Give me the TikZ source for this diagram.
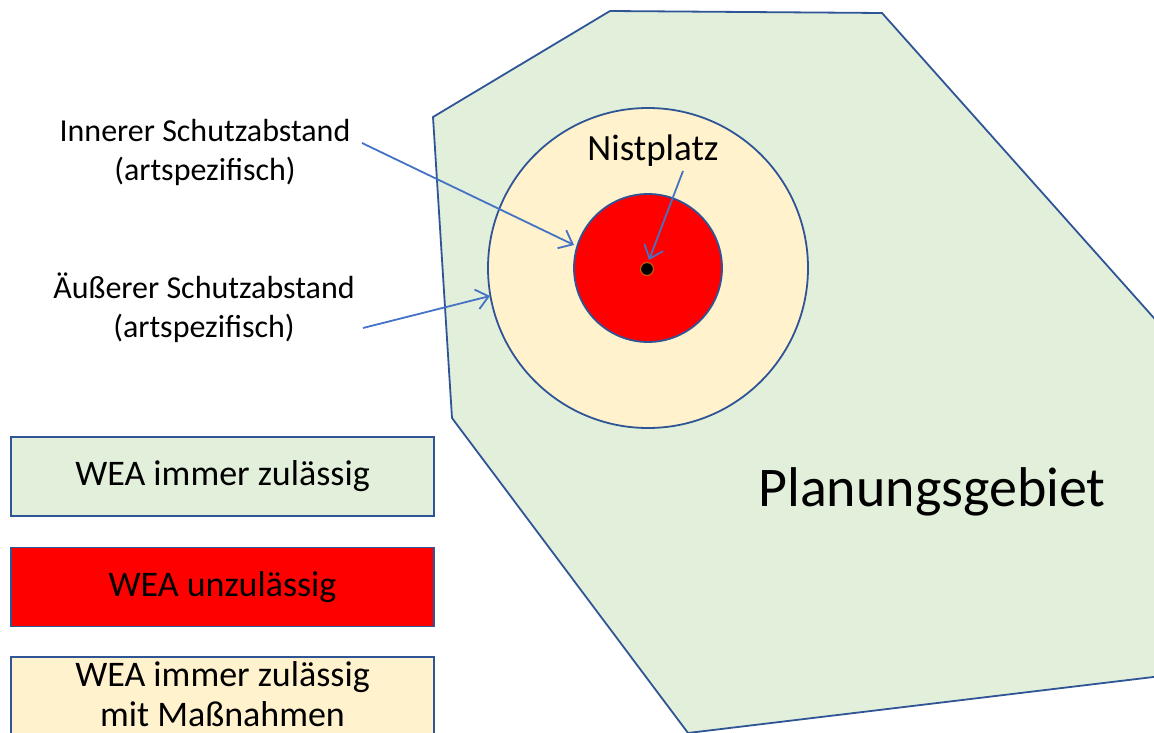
\documentclass[tikz,border=0pt]{standalone}
\usepackage{fontspec}
\setmainfont{Carlito}
\usetikzlibrary{arrows.meta}
\definecolor{areagreen}{HTML}{E2EFDA}
\definecolor{areacream}{HTML}{FFF2CC}
\definecolor{edgeblue}{HTML}{2F5597}
\definecolor{arrowblue}{HTML}{4472C4}
\definecolor{dotorange}{HTML}{C55A11}
\tikzset{
  outline/.style={draw=edgeblue, line width=1.8pt},
  legendfont/.style={font=\fontsize{36}{40}\selectfont, align=center, inner sep=0pt},
  legendbox/.style={outline, legendfont, minimum width=423pt, minimum height=79pt},
  label/.style={font=\fontsize{32}{39}\selectfont, align=center, inner sep=0pt},
  pointer/.style={draw=arrowblue, line width=1.8pt, -{Straight Barb[length=12pt,width=20pt,line width=1.8pt]}},
}
\begin{document}
\begin{tikzpicture}[x=1pt,y=-1pt]
\useasboundingbox (0,0) rectangle (1154,733);
\clip (0,0) rectangle (1154,733);
% Planungsgebiet polygon
\draw[outline, fill=areagreen] (433,117) -- (610,11) -- (882,13) -- (1170,336) -- (1170,675) -- (688,733) -- (452,418) -- cycle;
\node[font=\fontsize{56}{64}\selectfont, inner sep=0pt] (plan) at (932,492) {Planungsgebiet};
% circles
\node[circle, outline, fill=areacream, minimum size=320pt, inner sep=0pt] (outer) at (648,268) {};
\node[circle, outline, fill=red, minimum size=148pt, inner sep=0pt] (inner) at (648,268) {};
\node[circle, draw=dotorange, line width=1.2pt, fill=black, minimum size=13pt, inner sep=0pt] (nest) at (647,269) {};
% labels
\node[font=\fontsize{37}{44}\selectfont, inner sep=0pt] (nistlabel) at (653,151) {Nistplatz};
\node[label] (innerlabel) at (205,152) {Innerer Schutzabstand\\(artspezifisch)};
\node[label] (outerlabel) at (204,308) {Äußerer Schutzabstand\\(artspezifisch)};
% arrow coordinates
\coordinate (a1s) at (362,143);
\coordinate (a1e) at (574,245);
\coordinate (a2s) at (363,328);
\coordinate (a2e) at (490,296);
\coordinate (a3s) at (683,171);
\coordinate (a3e) at (649,260);
\draw[pointer] (a1s) -- (a1e);
\draw[pointer] (a2s) -- (a2e);
\draw[pointer] (a3s) -- (a3e);
% legend
\node[legendbox, fill=areagreen] (leg1) at (222.5,476.5) {WEA immer zulässig};
\node[legendbox, fill=red] (leg2) at (222.5,587) {WEA unzulässig};
\draw[outline, fill=areacream] (11,745) -- (11,657) -- (434,657) -- (434,745);
\node[legendfont] (leg3) at (222.5,694) {WEA immer zulässig\\mit Maßnahmen};
\end{tikzpicture}
\end{document}
